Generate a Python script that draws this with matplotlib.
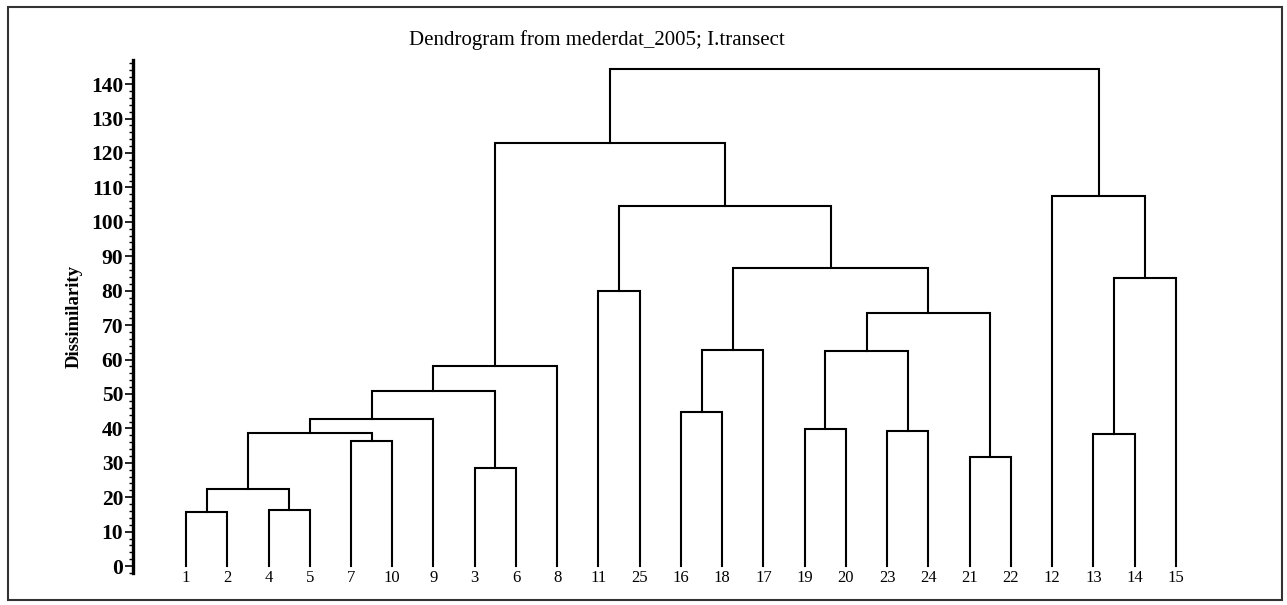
import numpy as np
import matplotlib.pyplot as plt
from matplotlib.patches import Rectangle
from matplotlib.ticker import MultipleLocator

plt.rcParams["font.family"] = ["Liberation Serif", "DejaVu Serif"]

# Leaf order along the x axis (sample numbers)
leaf_order = [1, 2, 4, 5, 7, 10, 9, 3, 6, 8, 11, 25, 16, 18, 17, 19, 20, 23, 24, 21, 22, 12, 13, 14, 15]

# Merges: cluster name, left child, right child, dissimilarity
merge_names = ["A", "B", "C", "D", "E", "F", "G", "H", "I", "J", "K", "L",
               "M", "N", "O", "P", "Q", "R", "S", "T", "U", "V", "W", "X"]
merge_left = [1, 4, "A", 7, "C", "E", 3, "F", "H", 11, 16, "K",
              19, 23, "M", 21, "O", "L", "J", "I", 13, "U", 12, "T"]
merge_right = [2, 5, "B", 10, "D", 9, 6, "G", 8, 25, 18, 17,
               20, 24, "N", 22, "P", "Q", "R", "S", 14, 15, "V", "W"]
merge_height = [15.8, 16.2, 22.3, 36.2, 38.7, 42.8, 28.4, 50.9, 58.2, 79.8, 44.8, 62.7,
                39.8, 39.3, 62.5, 31.6, 73.4, 86.5, 104.6, 122.8, 38.5, 83.7, 107.5, 144.5]

W, H = 1287, 605
fig = plt.figure(figsize=(W / 100, H / 100), dpi=100)

# axes placed in pixel terms
ax_left, ax_right = 133, 1230
ax_bottom, ax_top = 573, 60
ax = fig.add_axes([ax_left / W, 1 - ax_bottom / H, (ax_right - ax_left) / W, (ax_bottom - ax_top) / H])

# node positions: leaves at 0..24, clusters at mean of their children
xpos = {leaf: i for i, leaf in enumerate(leaf_order)}
ypos = {leaf: 0.0 for leaf in leaf_order}

for name, a, b, h in zip(merge_names, merge_left, merge_right, merge_height):
    xa, xb = xpos[a], xpos[b]
    ax.plot([xa, xa, xb, xb], [ypos[a], h, h, ypos[b]], color="black", lw=1.5, solid_joinstyle="miter")
    xpos[name] = (xa + xb) / 2
    ypos[name] = h

ax.set_xlim(-1.285, 25.31)
ax.set_ylim(-2, 147)

# y axis style
for s in ["top", "right", "bottom"]:
    ax.spines[s].set_visible(False)
ax.spines["left"].set_linewidth(2.4)
ax.yaxis.set_major_locator(MultipleLocator(10))
ax.yaxis.set_minor_locator(MultipleLocator(2))
ax.set_yticks(np.arange(0, 141, 10))
ax.tick_params(axis="y", which="major", length=6, width=1.2, labelsize=15.5, pad=1)
ax.tick_params(axis="y", which="minor", length=3, width=1.0)
for lab in ax.get_yticklabels():
    lab.set_fontweight("bold")

# leaf labels
ax.set_xticks(range(len(leaf_order)))
ax.set_xticklabels([str(l) for l in leaf_order])
ax.tick_params(axis="x", length=0, labelsize=12, pad=-2)

ax.set_ylabel("Dissimilarity", fontsize=13.5, fontweight="bold", labelpad=6)

fig.text(597 / W, 1 - 40 / H, "Dendrogram from mederdat_2005; I.transect",
         ha="center", va="center", fontsize=15)

# outer frame
frame = Rectangle((8 / W, 1 - 600 / H), (1282 - 8) / W, (600 - 7) / H,
                  transform=fig.transFigure, fill=False, edgecolor="#333333", lw=1.5)
fig.patches.append(frame)

fig.savefig("out.png", dpi=100)
